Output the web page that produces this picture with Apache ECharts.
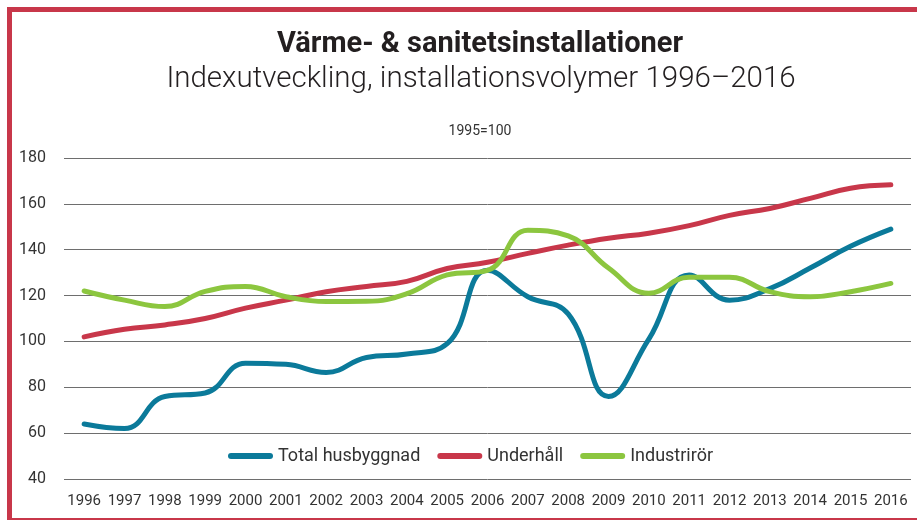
<!DOCTYPE html>
<html>
<head>
<meta charset="utf-8">
<script src="https://cdn.jsdelivr.net/npm/echarts@6/dist/echarts.min.js"></script>
<style>
html,body{margin:0;padding:0;background:#fff;}
#main{width:917px;height:520px;}
</style>
</head>
<body>
<div id="main"></div>
<script>
const years = ['1996','1997','1998','1999','2000','2001','2002','2003','2004','2005','2006','2007','2008','2009','2010','2011','2012','2013','2014','2015','2016'];
const totalHusbyggnad = [64, 62, 76, 77.5, 90.5, 90, 86.5, 93, 94.5, 99, 131, 119.5, 112, 76, 101, 129, 118, 123, 132, 141.5, 149];
const underhall = [102, 105.3, 107.2, 110, 114.5, 118, 121.7, 124, 126.2, 131.8, 134.5, 138.4, 142, 145, 147.2, 150.5, 155, 158, 162.4, 166.8, 168.3];
const industriror = [122, 118, 115.2, 121.8, 124, 119.5, 117.4, 117.5, 120.8, 129, 131, 148.5, 146, 132, 121, 128, 128, 121.7, 119.5, 121.7, 125.3];
const yTicks = {min: 40, max: 180, interval: 20};

const titleText = 'Värme- & sanitetsinstallationer';
const subtitleText = 'Indexutveckling, installationsvolymer 1996–2016';
const noteText = '1995=100';

const chart = echarts.init(document.getElementById('main'), null, {renderer: 'canvas'});
const FONT = 'Roboto, "Noto Sans", sans-serif';
const pill = 'path://M3,0 L42,0 A3,3 0 0 1 42,6 L3,6 A3,3 0 0 1 3,0 Z';

chart.setOption({
  animation: false,
  backgroundColor: '#ffffff',
  textStyle: {fontFamily: FONT},
  graphic: [
    {type: 'rect', shape: {x: 9.5, y: 9.5, width: 1000, height: 511}, style: {fill: 'none', stroke: '#c8374a', lineWidth: 5}, silent: true},
    {type: 'text', x: 480, y: 45, style: {text: titleText, align: 'center', verticalAlign: 'middle', font: 'bold 29px ' + FONT, fill: '#231f20'}},
    {type: 'text', x: 481, y: 79.5, style: {text: subtitleText, align: 'center', verticalAlign: 'middle', font: '300 29.5px ' + FONT, fill: '#231f20'}},
    {type: 'text', x: 480, y: 131, style: {text: noteText, align: 'center', verticalAlign: 'middle', font: '14px ' + FONT, fill: '#333333'}}
  ],
  legend: {
    left: 223,
    top: 442,
    icon: pill,
    itemWidth: 45,
    itemHeight: 6,
    itemGap: 17,
    textStyle: {fontSize: 18, color: '#333333', fontFamily: FONT, padding: [0, 0, 0, 0]},
    data: ['Total husbyggnad', 'Underhåll', 'Industrirör']
  },
  grid: {left: 64, right: 6, top: 158, bottom: 41, containLabel: false},
  xAxis: {
    type: 'category',
    data: years,
    boundaryGap: true,
    axisLine: {show: false},
    axisTick: {show: false},
    axisLabel: {fontSize: 15, color: '#333333', margin: 15, interval: 0, fontFamily: FONT}
  },
  yAxis: {
    type: 'value',
    min: yTicks.min,
    max: yTicks.max,
    interval: yTicks.interval,
    axisLine: {show: false},
    axisTick: {show: false},
    axisLabel: {fontSize: 16, color: '#333333', margin: 18, fontFamily: FONT},
    splitLine: {lineStyle: {color: '#6e6e6e', width: 1}}
  },
  series: [
    {name: 'Total husbyggnad', type: 'line', data: totalHusbyggnad, smooth: 0.45, showSymbol: false, symbol: 'none',
     lineStyle: {width: 5, color: '#0b7a9a', cap: 'round', join: 'round'}, itemStyle: {color: '#0b7a9a'}},
    {name: 'Underhåll', type: 'line', data: underhall, smooth: 0.45, showSymbol: false, symbol: 'none',
     lineStyle: {width: 5, color: '#c8374a', cap: 'round', join: 'round'}, itemStyle: {color: '#c8374a'}},
    {name: 'Industrirör', type: 'line', data: industriror, smooth: 0.45, showSymbol: false, symbol: 'none',
     lineStyle: {width: 5, color: '#8cc63f', cap: 'round', join: 'round'}, itemStyle: {color: '#8cc63f'}}
  ]
});
</script>
</body>
</html>
